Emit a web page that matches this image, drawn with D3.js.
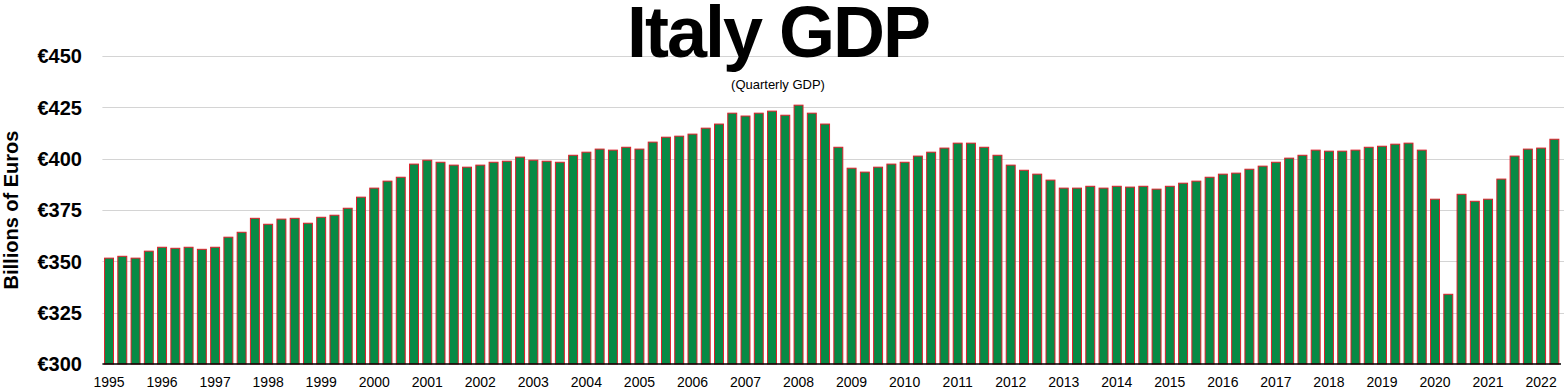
<!DOCTYPE html>
<html>
<head>
<meta charset="utf-8">
<script src="https://cdnjs.cloudflare.com/ajax/libs/d3/7.8.5/d3.min.js"></script>
<style>
  html, body { margin: 0; padding: 0; background: #fff; }
  svg { display: block; font-family: "Liberation Sans", Arial, Helvetica, sans-serif; }
</style>
</head>
<body>
<div id="chart"></div>
<script>
// Quarterly GDP, billions of euros, 1995 Q1 .. 2022 Q2
const years = d3.range(1995, 2023);
const quarters = ["Q1", "Q2", "Q3", "Q4"];
const gdp = [
  351.8, 352.7, 351.8, 355.2,  // 1995
  357.1, 356.6, 357.1, 356.1,  // 1996
  357.1, 362.0, 364.4, 371.2,  // 1997
  368.3, 370.8, 371.2, 368.8,  // 1998
  371.7, 372.7, 376.1, 381.5,  // 1999
  385.9, 389.3, 391.2, 397.6,  // 2000
  399.5, 398.5, 397.1, 396.1,  // 2001
  397.1, 398.5, 399.0, 401.0,  // 2002
  399.5, 399.0, 398.5, 401.9,  // 2003
  403.4, 404.9, 404.4, 405.8,  // 2004
  404.9, 408.3, 410.7, 411.2,  // 2005
  412.2, 415.1, 417.1, 422.4,  // 2006
  421.0, 422.4, 423.4, 421.4,  // 2007
  426.3, 422.4, 417.1, 405.8,  // 2008
  395.6, 393.7, 396.1, 397.6,  // 2009
  398.5, 401.5, 403.4, 405.4,  // 2010
  407.8, 407.8, 405.8, 401.9,  // 2011
  397.1, 394.6, 392.7, 389.8,  // 2012
  385.9, 385.9, 386.8, 385.9,  // 2013
  386.8, 386.4, 386.8, 385.4,  // 2014
  386.8, 388.3, 389.3, 391.2,  // 2015
  392.7, 393.2, 395.1, 396.6,  // 2016
  398.5, 400.5, 401.9, 404.4,  // 2017
  403.9, 403.9, 404.4, 405.8,  // 2018
  406.3, 407.3, 407.8, 404.4,  // 2019
  380.5, 334.2, 382.9, 379.5,  // 2020
  380.5, 390.3, 401.5, 404.9,  // 2021
  405.4, 409.7                 // 2022
];
const yTicks = [300, 325, 350, 375, 400, 425, 450];

const data = gdp.map((v, i) => ({
  key: years[Math.floor(i / 4)] + " " + quarters[i % 4],
  year: years[Math.floor(i / 4)],
  q: i % 4,
  value: v
}));

const width = 1564;
const height = 389;
const margin = { top: 56, right: 3, bottom: 25, left: 102.4 };

const svg = d3.select("#chart").append("svg")
    .attr("width", width)
    .attr("height", height);

const x = d3.scaleBand()
    .domain(data.map(d => d.key))
    .range([margin.left, width - margin.right])
    .paddingInner(0.25)
    .paddingOuter(0.125);

const y = d3.scaleLinear()
    .domain([300, 450])
    .range([height - margin.bottom, margin.top]);

// grid lines
svg.append("g")
    .selectAll("line")
    .data(yTicks.slice(1))
    .join("line")
    .attr("x1", margin.left)
    .attr("x2", width)
    .attr("y1", d => Math.round(y(d)) + 0.5)
    .attr("y2", d => Math.round(y(d)) + 0.5)
    .attr("stroke", "#d4d4d4")
    .attr("stroke-width", 1);

// bars
svg.append("g")
    .selectAll("rect")
    .data(data)
    .join("rect")
    .attr("x", d => x(d.key) + 0.5)
    .attr("y", d => y(d.value) + 0.5)
    .attr("width", x.bandwidth() - 1)
    .attr("height", d => y(300) - y(d.value) - 0.5)
    .attr("fill", "#078a45")
    .attr("stroke", "#de1f2b")
    .attr("stroke-width", 1);

// baseline
svg.append("line")
    .attr("x1", margin.left)
    .attr("x2", width - margin.right)
    .attr("y1", y(300))
    .attr("y2", y(300))
    .attr("stroke", "#000")
    .attr("stroke-width", 1.5);

// y labels
svg.append("g")
    .selectAll("text")
    .data(yTicks)
    .join("text")
    .attr("x", 82)
    .attr("y", d => y(d))
    .attr("dy", "0.36em")
    .attr("text-anchor", "end")
    .attr("font-size", 20)
    .attr("font-weight", "bold")
    .text(d => "€" + d);

// x labels: one per year, under the Q1 bar
svg.append("g")
    .selectAll("text")
    .data(data.filter(d => d.q === 0))
    .join("text")
    .attr("x", d => x(d.key) + x.bandwidth() / 2)
    .attr("y", 387)
    .attr("text-anchor", "middle")
    .attr("font-size", 14)
    .text(d => d.year);

// axis title
svg.append("text")
    .attr("transform", "translate(18,210) rotate(-90)")
    .attr("text-anchor", "middle")
    .attr("font-size", 20)
    .attr("font-weight", "bold")
    .text("Billions of Euros");

// title + subtitle
svg.append("text")
    .attr("x", 778)
    .attr("y", 57)
    .attr("text-anchor", "middle")
    .attr("font-size", 72)
    .attr("font-weight", "bold")
    .attr("letter-spacing", -2)
    .text("Italy GDP");

svg.append("text")
    .attr("x", 778)
    .attr("y", 89)
    .attr("text-anchor", "middle")
    .attr("font-size", 13)
    .text("(Quarterly GDP)");
</script>
</body>
</html>
